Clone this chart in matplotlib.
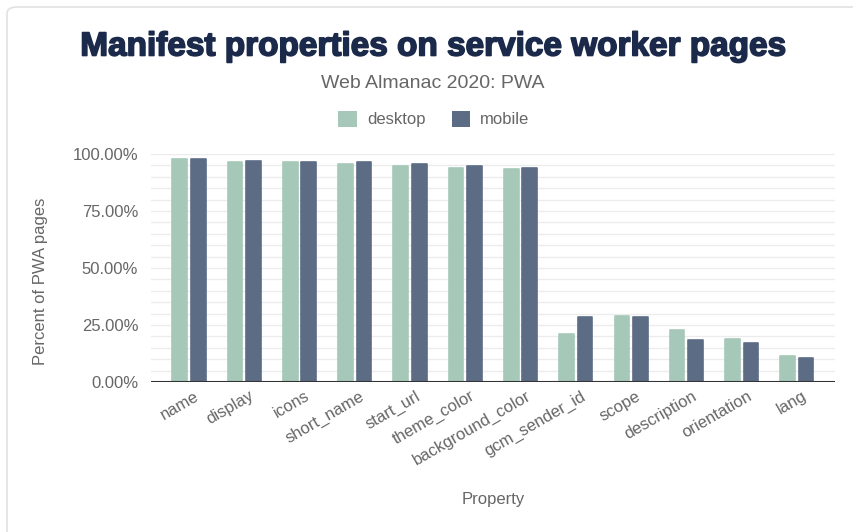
import matplotlib
matplotlib.use("Agg")
import matplotlib.pyplot as plt
import numpy as np
from matplotlib.patches import Patch, FancyBboxPatch
import matplotlib.patheffects as pe
import matplotlib.transforms as mtransforms

categories = ["name", "display", "icons", "short_name", "start_url", "theme_color",
              "background_color", "gcm_sender_id", "scope", "description",
              "orientation", "lang"]
desktop = [0.977, 0.964, 0.964, 0.958, 0.946, 0.939, 0.933, 0.209, 0.291, 0.227, 0.190, 0.115]
mobile = [0.977, 0.971, 0.964, 0.964, 0.958, 0.946, 0.939, 0.284, 0.284, 0.184, 0.172, 0.104]
yticks = [0.0, 0.25, 0.5, 0.75, 1.0]
ytick_labels = ["0.00%", "25.00%", "50.00%", "75.00%", "100.00%"]

C_DESK = "#a5c8b8"
C_MOB = "#5d6c85"
TXT = "#666666"

plt.rcParams['font.family'] = ['Liberation Sans', 'DejaVu Sans']

W, H = 854, 532
fig = plt.figure(figsize=(W / 100, H / 100), dpi=100)
fig.patch.set_facecolor("white")

# card border (top-left corner at 7,7 px; extends past right and bottom edges)
card = FancyBboxPatch((7 / W, -0.5), 1.2, 1 - 7 / H + 0.5,
                      boxstyle="round,pad=0,rounding_size=0.012",
                      transform=fig.transFigure, facecolor="white", edgecolor="#e2e2e2",
                      linewidth=1.2, zorder=-10)
fig.add_artist(card)

ax = fig.add_axes([150.7 / W, (H - 382) / H, (835 - 150.7) / W, 228 / H])
ax.set_zorder(5)
ax.set_facecolor("none")

x = np.arange(len(categories))
bw = 0.265
off = 0.167
ax.bar(x - off, desktop, width=bw, color=C_DESK, edgecolor=C_DESK, linewidth=1.2,
       joinstyle="round", zorder=3)
ax.bar(x + off, mobile, width=bw, color=C_MOB, edgecolor=C_MOB, linewidth=1.2,
       joinstyle="round", zorder=3)

ax.set_xlim(-0.693, 11.69)
ax.set_ylim(0, 1.0)

for v in np.arange(0.05, 1.0001, 0.05):
    ax.axhline(v, color="#ececec", linewidth=1.0, zorder=1)
ax.axhline(0, color="#333333", linewidth=1.5, zorder=4)

ax.set_yticks(yticks)
ax.set_yticklabels(ytick_labels, fontsize=12, color=TXT)
ax.tick_params(axis="y", length=0, pad=9)
ax.set_xticks(x)
ax.set_xticklabels(categories, rotation=30, ha="right", rotation_mode="anchor",
                   fontsize=12, color=TXT)
ax.tick_params(axis="x", length=0, pad=6)
shift = mtransforms.ScaledTranslation(5 / 100, 2 / 100, fig.dpi_scale_trans)
for lbl in ax.get_xticklabels():
    lbl.set_transform(lbl.get_transform() + shift)
for s in ax.spines.values():
    s.set_visible(False)

ax.set_ylabel("Percent of PWA pages", fontsize=12, color=TXT, labelpad=0)
ax.yaxis.set_label_coords((48 - 150.7) / (835 - 150.7), (382 - 281) / 228)
ax.set_xlabel("Property", fontsize=12, color=TXT)
ax.xaxis.set_label_coords(0.5, -(492 - 382) / 228)

fig.text(434 / W, 1 - 47 / H, "Manifest properties on service worker pages",
         ha="center", va="center", fontsize=24, fontweight="bold", color="#1b2a4a",
         path_effects=[pe.withStroke(linewidth=1.2, foreground="#1b2a4a")])
fig.text(433 / W, 1 - 83 / H, "Web Almanac 2020: PWA", ha="center", va="center",
         fontsize=14, color=TXT)

handles = [Patch(facecolor=C_DESK, edgecolor="none", label="desktop"),
           Patch(facecolor=C_MOB, edgecolor="none", label="mobile")]
fig.legend(handles=handles, loc="center", bbox_to_anchor=(434 / W, 1 - 119 / H), ncol=2,
           frameon=False, fontsize=12, handlelength=1.1, handleheight=1.1,
           handletextpad=0.6, columnspacing=1.6, labelcolor=TXT)

fig.savefig("out.png", dpi=100)
